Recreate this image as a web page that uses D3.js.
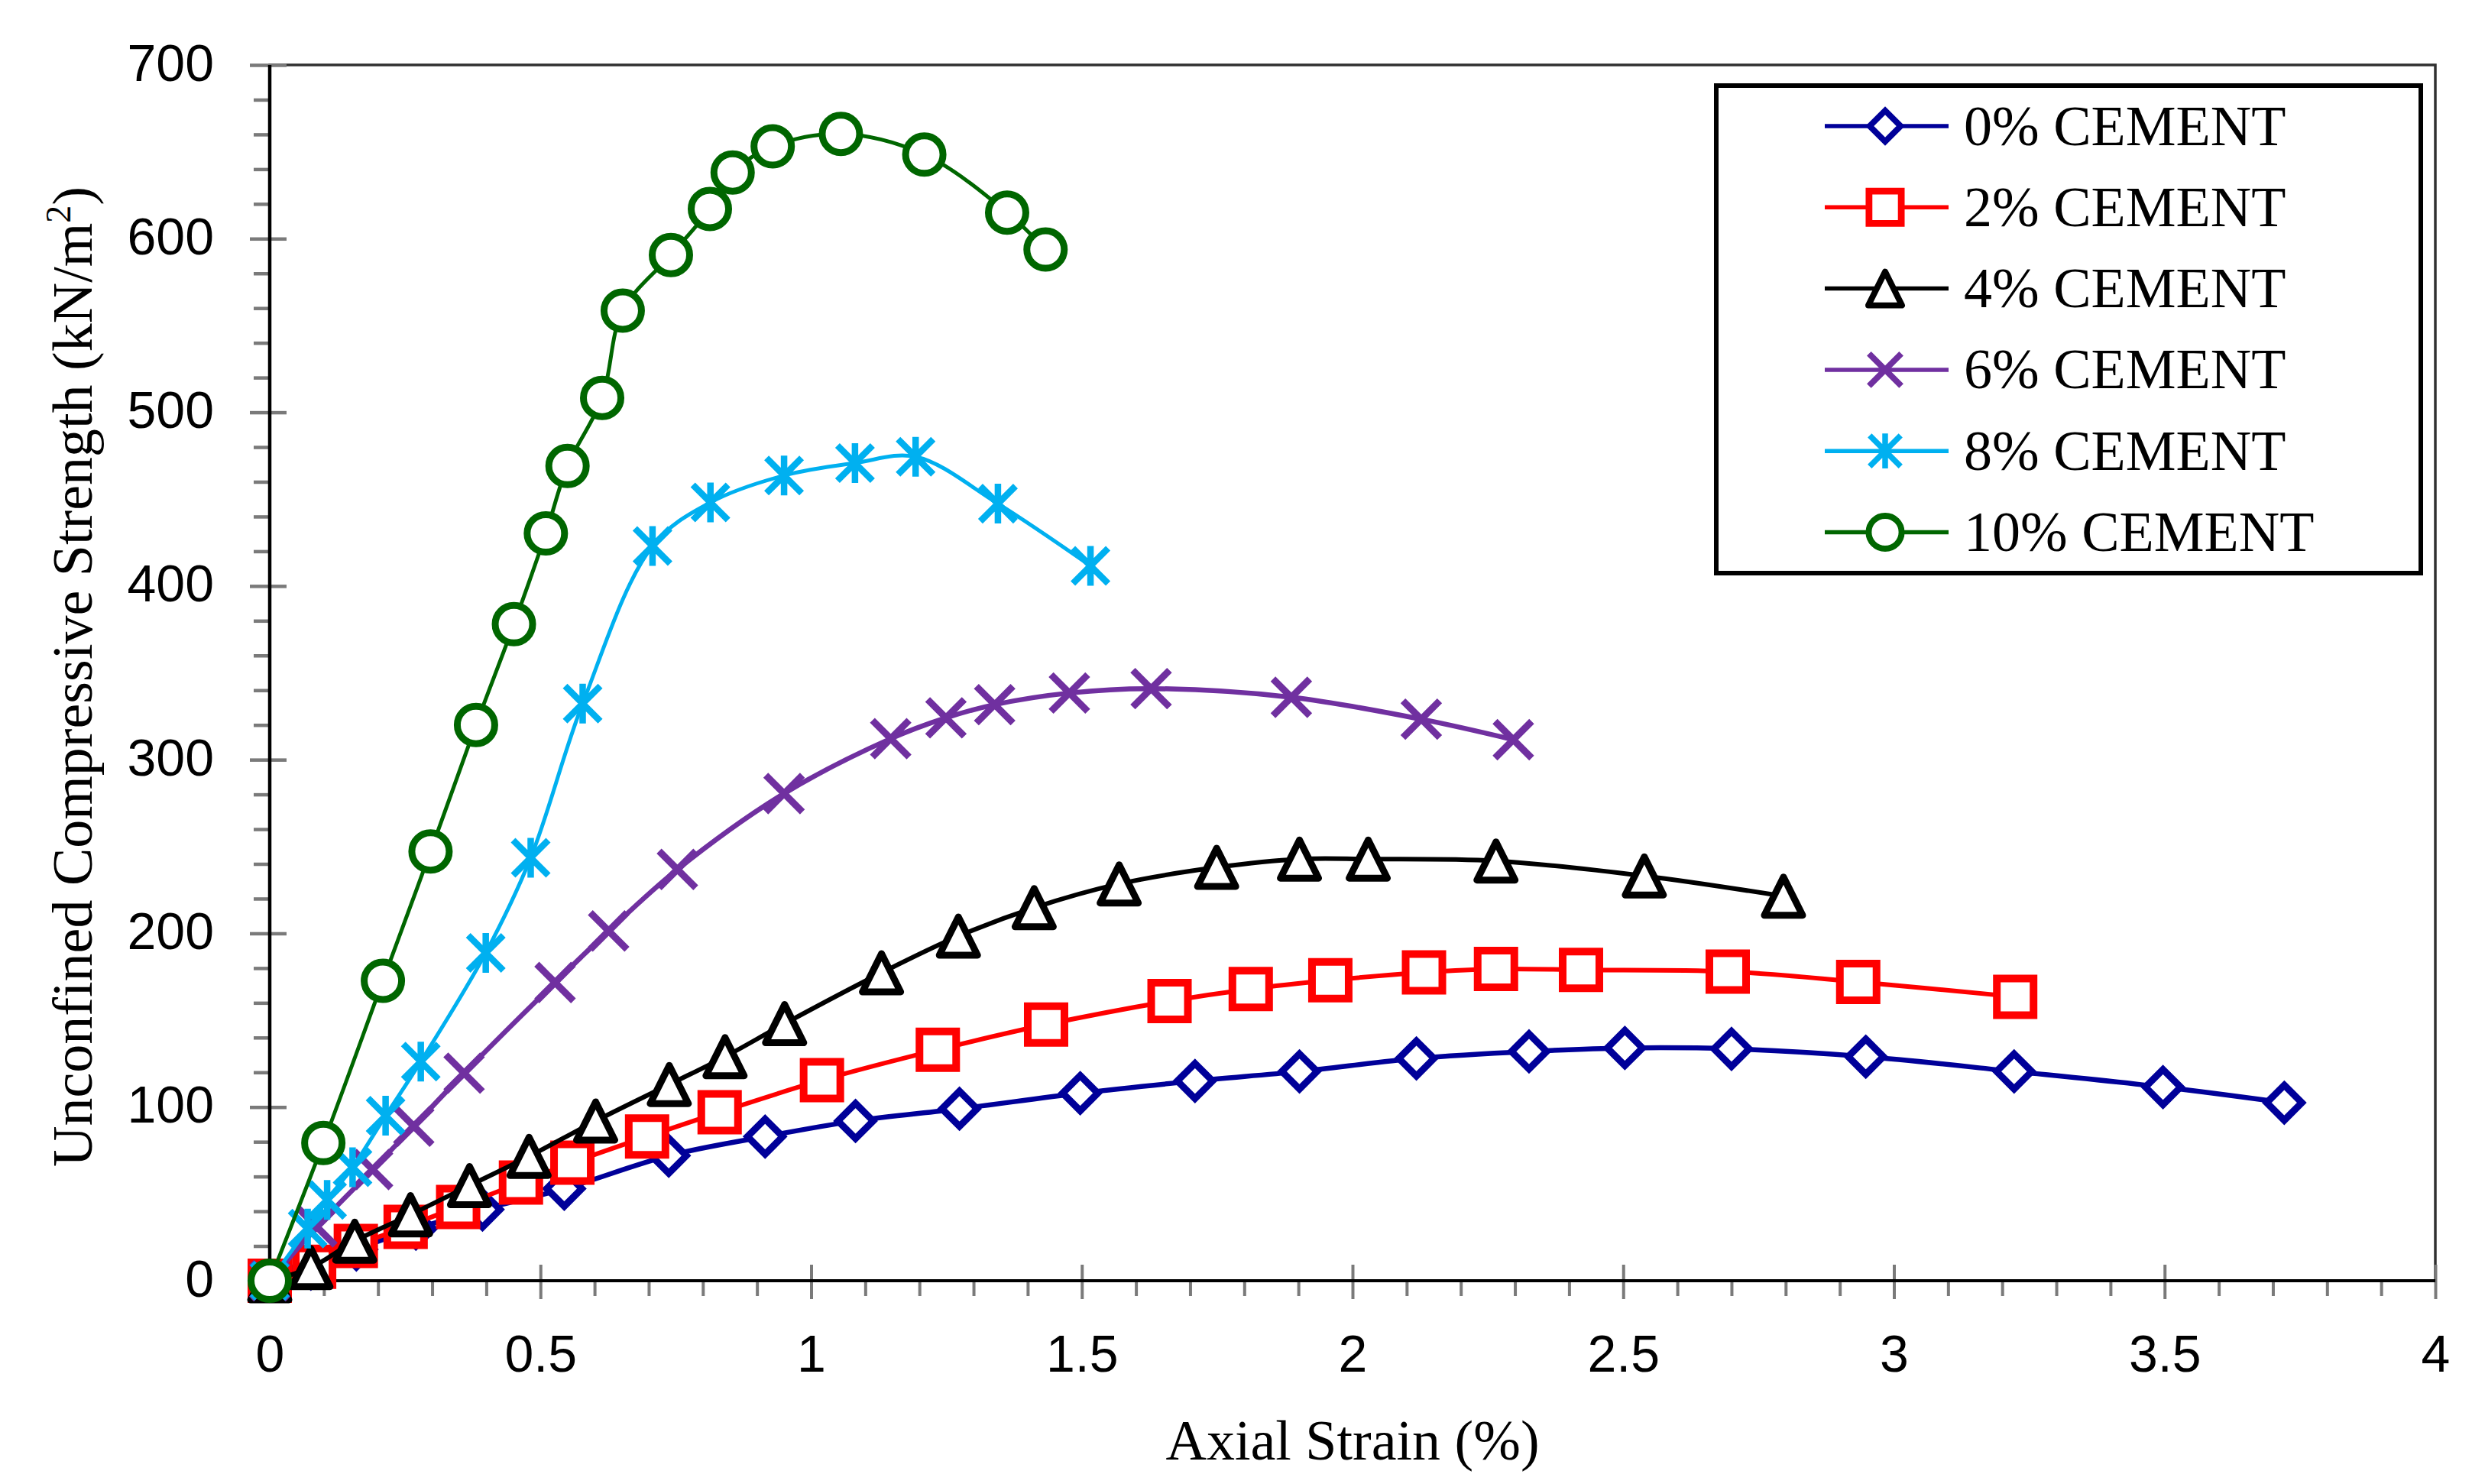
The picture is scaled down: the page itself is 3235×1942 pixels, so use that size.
<!DOCTYPE html>
<html><head><meta charset="utf-8">
<script src="https://cdn.jsdelivr.net/npm/d3@7"></script>
<style>
html,body{margin:0;padding:0;background:#fff;}
svg{display:block;}
</style></head>
<body>
<svg id="chart" width="3235" height="1942"></svg>
<script>
// ---------- data ----------
const seriesNames = ["0% CEMENT","2% CEMENT","4% CEMENT","6% CEMENT","8% CEMENT","10% CEMENT"];

const strain0 = [0, 0.076, 0.16, 0.27, 0.393, 0.544, 0.737, 0.915, 1.082, 1.274, 1.497, 1.709, 1.902, 2.118, 2.326, 2.503, 2.700, 2.948, 3.222, 3.497, 3.721];
const ucs0    = [0, 7, 18, 30, 41, 53, 72, 83, 92, 99, 108, 115, 120.5, 128, 132, 134, 133.5, 129, 120.5, 111.5, 102.5];

const strain2 = [0, 0.082, 0.159, 0.251, 0.348, 0.464, 0.559, 0.697, 0.831, 1.02, 1.234, 1.434, 1.662, 1.812, 1.959, 2.132, 2.265, 2.422, 2.693, 2.934, 3.224];
const ucs2    = [0, 8, 20, 31, 42.5, 56.5, 68, 83, 97, 115.5, 133, 147.5, 161, 168, 173, 177.5, 179.5, 179, 178, 172, 163.5];

const strain4 = [0, 0.076, 0.157, 0.26, 0.369, 0.479, 0.602, 0.738, 0.841, 0.951, 1.130, 1.272, 1.412, 1.569, 1.749, 1.902, 2.029, 2.265, 2.539, 2.796];
const ucs4    = [0, 7.6, 22.8, 38, 54.8, 71.6, 92, 113, 129, 148, 177.3, 198.4, 214.8, 228.5, 238, 242.8, 242.8, 241.7, 233.1, 221.4];

const strain6 = [0, 0.087, 0.19, 0.266, 0.359, 0.527, 0.626, 0.753, 0.950, 1.147, 1.249, 1.339, 1.477, 1.628, 1.887, 2.127, 2.297];
const ucs6    = [0, 31, 64, 89, 119.5, 171.7, 201.4, 236.8, 280.5, 312.1, 324.1, 331.7, 338.4, 340.9, 335.9, 323.3, 311.5];

const strain8 = [0, 0.070, 0.106, 0.153, 0.214, 0.279, 0.399, 0.482, 0.578, 0.707, 0.814, 0.950, 1.081, 1.193, 1.345, 1.516];
const ucs8    = [0, 30, 46.5, 65.3, 95, 126.2, 188.8, 243.5, 332.3, 423, 448.1, 463.6, 470.8, 474.4, 447.4, 411.6];

const strain10 = [0, 0.099, 0.209, 0.297, 0.381, 0.451, 0.510, 0.550, 0.614, 0.652, 0.741, 0.813, 0.855, 0.929, 1.055, 1.209, 1.362, 1.433];
const ucs10    = [0, 79.3, 172.7, 247.2, 320, 378, 430.3, 469.1, 508.3, 558.6, 590.6, 617.1, 638.1, 653.1, 660.3, 648.4, 615, 593.7];

const xTickValues = [0, 0.5, 1, 1.5, 2, 2.5, 3, 3.5, 4];
const yTickValues = [0, 100, 200, 300, 400, 500, 600, 700];

// ---------- styling ----------
const colors = ["#000099", "#FF0000", "#000000", "#7030A0", "#00B0F0", "#006600"];
const shapes = ["diamond", "square", "triangle", "x", "star", "circle"];
const lineWidths = [6.5, 6, 6, 6.5, 5, 5];
const strains = [strain0, strain2, strain4, strain6, strain8, strain10];
const values  = [ucs0, ucs2, ucs4, ucs6, ucs8, ucs10];

const series = seriesNames.map((name, i) => ({
  name, color: colors[i], shape: shapes[i], lw: lineWidths[i],
  points: strains[i].map((s, j) => ({x: s, y: values[i][j]}))
}));

const svg = d3.select("#chart");
svg.append("rect").attr("width", 3235).attr("height", 1942).attr("fill", "#fff");

const X0 = 353, X1 = 3187, Y0 = 1676, Y1 = 85;
const x = d3.scaleLinear().domain([0, 4]).range([X0, X1]);
const y = d3.scaleLinear().domain([0, 700]).range([Y0, Y1]);

// plot frame
svg.append("rect").attr("x", X0).attr("y", Y1).attr("width", X1 - X0).attr("height", Y0 - Y1)
  .attr("fill", "none").attr("stroke", "#303030").attr("stroke-width", 3.5);

const tickColor = "#7a7a7a";
const xMinor = d3.range(0, 4.0001, 0.1).filter(v => Math.abs(v * 2 - Math.round(v * 2)) > 1e-6);
const yMinor = d3.range(0, 700.001, 20).filter(v => v % 100 !== 0);

function styleTicks(g, w) {
  g.selectAll(".tick line").attr("stroke", tickColor).attr("stroke-width", w);
  g.select(".domain").remove();
}

// minor ticks
const gxm = svg.append("g").attr("transform", `translate(0,${Y0})`)
  .call(d3.axisBottom(x).tickValues(xMinor).tickSize(20).tickSizeOuter(0).tickFormat(""));
styleTicks(gxm, 4);
const gym = svg.append("g").attr("transform", `translate(${X0},0)`)
  .call(d3.axisLeft(y).tickValues(yMinor).tickSize(21).tickSizeOuter(0).tickFormat(""));
styleTicks(gym, 4.5);

// major inner ticks
const gxi = svg.append("g").attr("transform", `translate(0,${Y0})`)
  .call(d3.axisBottom(x).tickValues(xTickValues).tickSize(-21).tickSizeOuter(0).tickFormat(""));
styleTicks(gxi, 4);
const gyi = svg.append("g").attr("transform", `translate(${X0},0)`)
  .call(d3.axisLeft(y).tickValues(yTickValues).tickSize(-22).tickSizeOuter(0).tickFormat(""));
styleTicks(gyi, 4.5);

// major outer ticks + labels
const sans = "'Liberation Sans', Arial, sans-serif";
const gx = svg.append("g").attr("transform", `translate(0,${Y0})`)
  .call(d3.axisBottom(x).tickValues(xTickValues).tickSize(24).tickSizeOuter(0).tickFormat(d3.format("")));
styleTicks(gx, 4);
gx.selectAll(".tick text")
  .attr("y", 119).attr("dy", 0)
  .attr("font-family", sans).attr("font-size", 68).attr("fill", "#000");

const gy = svg.append("g").attr("transform", `translate(${X0},0)`)
  .call(d3.axisLeft(y).tickValues(yTickValues).tickSize(26).tickSizeOuter(0).tickFormat(d3.format("")));
styleTicks(gy, 4.5);
gy.selectAll(".tick text")
  .attr("x", -73).attr("dy", 20)
  .attr("font-family", sans).attr("font-size", 68).attr("fill", "#000");

// axis lines
svg.append("line").attr("x1", X0).attr("x2", X0).attr("y1", Y1).attr("y2", Y0 + 2)
  .attr("stroke", "#000").attr("stroke-width", 4.5);
svg.append("line").attr("x1", X0 - 2).attr("x2", X1).attr("y1", Y0).attr("y2", Y0)
  .attr("stroke", "#000").attr("stroke-width", 4);

// axis titles
const serif = "'Liberation Serif', 'Times New Roman', serif";
svg.append("text").attr("x", (X0 + X1) / 2).attr("y", 1910)
  .attr("text-anchor", "middle").attr("font-family", serif).attr("font-size", 74)
  .text("Axial Strain (%)");
const yt = svg.append("text").attr("transform", `translate(120,${(Y0 + Y1) / 2 + 5}) rotate(-90)`)
  .attr("text-anchor", "middle").attr("font-family", serif).attr("font-size", 74);
yt.append("tspan").text("Unconfined Compressive Strength (kN/m");
yt.append("tspan").attr("font-size", 46).attr("dy", -28).text("2");
yt.append("tspan").attr("dy", 28).text(")");

// marker paths
function markerPath(shape, k) {
  const p = d3.path();
  if (shape === "diamond") { const s = 23 * k; p.moveTo(0, -s); p.lineTo(s, 0); p.lineTo(0, s); p.lineTo(-s, 0); p.closePath(); }
  else if (shape === "square") { const s = 24 * k; p.rect(-s, -s, 2 * s, 2 * s); }
  else if (shape === "triangle") { const s = 25 * k; p.moveTo(0, -s); p.lineTo(s, s); p.lineTo(-s, s); p.closePath(); }
  else if (shape === "x") { const s = 24 * k; p.moveTo(-s, -s); p.lineTo(s, s); p.moveTo(-s, s); p.lineTo(s, -s); }
  else if (shape === "star") { const s = 23 * k; p.moveTo(-s, -s); p.lineTo(s, s); p.moveTo(-s, s); p.lineTo(s, -s); p.moveTo(0, -s - 3 * k); p.lineTo(0, s + 3 * k); }
  else if (shape === "circle") { const r = 24.5 * k; p.moveTo(r, 0); p.arc(0, 0, r, 0, 2 * Math.PI); p.closePath(); }
  return p.toString();
}
const markerStroke = {diamond: 9, square: 10, triangle: 9, x: 9, star: 8.5, circle: 9};
function drawMarker(g, shape, color, k) {
  g.append("path").attr("d", markerPath(shape, k))
    .attr("fill", (shape === "x" || shape === "star") ? "none" : "#fff")
    .attr("stroke", color).attr("stroke-width", markerStroke[shape] * k)
    .attr("stroke-linejoin", shape === "triangle" ? "round" : "miter")
    .attr("stroke-linecap", "butt");
}

// series
const line = d3.line().x(d => x(d.x)).y(d => y(d.y)).curve(d3.curveCatmullRom.alpha(0.5));
series.forEach(s => {
  const g = svg.append("g");
  g.append("path").attr("d", line(s.points)).attr("fill", "none")
    .attr("stroke", s.color).attr("stroke-width", s.lw);
  s.points.forEach(pt => {
    const mg = g.append("g").attr("transform", `translate(${x(pt.x)},${y(pt.y)})`);
    drawMarker(mg, s.shape, s.color, 1);
  });
});

// legend
const lg = svg.append("g");
lg.append("rect").attr("x", 2246).attr("y", 112).attr("width", 922).attr("height", 638)
  .attr("fill", "#fff").attr("stroke", "#000").attr("stroke-width", 6);
series.forEach((s, i) => {
  const cy = 165 + i * 106.3;
  lg.append("line").attr("x1", 2388).attr("x2", 2550).attr("y1", cy).attr("y2", cy)
    .attr("stroke", s.color).attr("stroke-width", 5.5);
  const mg = lg.append("g").attr("transform", `translate(2467,${cy})`);
  drawMarker(mg, s.shape, s.color, 0.88);
  lg.append("text").attr("x", 2570).attr("y", cy + 24.5)
    .attr("font-family", serif).attr("font-size", 74).attr("fill", "#000").text(s.name);
});
</script>
</body></html>
